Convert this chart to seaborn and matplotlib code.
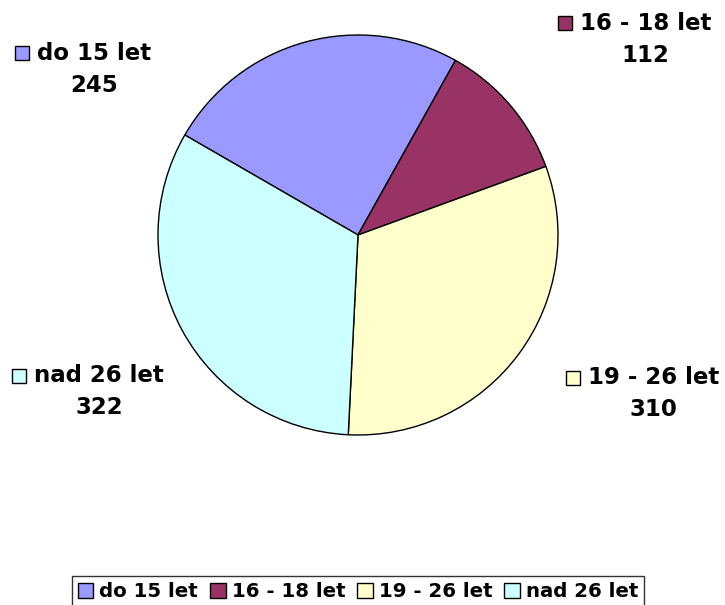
import matplotlib.pyplot as plt
import seaborn as sns
from matplotlib.patches import Rectangle

# data
categories = ["do 15 let", "16 - 18 let", "19 - 26 let", "nad 26 let"]
values = [245, 112, 310, 322]
colors = ["#9999FF", "#993366", "#FFFFCC", "#CCFFFF"]

# label block positions in figure pixels (left of key square, centre y of first line)
label_pos = [(15, 53), (558, 23), (566, 378), (12, 376)]

W, H = 725, 605

sns.set_theme(style="white")
plt.rcParams["font.family"] = ["DejaVu Sans"]
plt.rcParams["text.color"] = "black"

fig = plt.figure(figsize=(W / 100, H / 100), dpi=100)
fig.patch.set_facecolor("white")

# pie axes: centre (358, 235) px, radius 200 px
ax = fig.add_axes([158 / W, 1 - 435 / H, 400 / W, 400 / H])
wedges, _ = ax.pie(values, colors=colors, startangle=150, counterclock=False,
                   radius=1, wedgeprops=dict(edgecolor="black", linewidth=1))
ax.set_xlim(-1, 1)
ax.set_ylim(-1, 1)
ax.set_aspect("equal")
ax.axis("off")

fs = 16.5
key = 14
for cat, val, col, (px, py) in zip(categories, values, colors, label_pos):
    fig.patches.append(Rectangle((px / W, 1 - (py + key / 2) / H), key / W, key / H,
                                 transform=fig.transFigure, facecolor=col,
                                 edgecolor="black", linewidth=1))
    t = fig.text((px + key + 8) / W, 1 - py / H, cat, fontsize=fs, fontweight="bold",
                 ha="left", va="center", color="black")
    fig.canvas.draw()
    bb = t.get_window_extent()
    cx = (bb.x0 + bb.x1) / 2
    fig.text(cx / W, 1 - (py + 32) / H, str(val), fontsize=fs, fontweight="bold",
             ha="center", va="center", color="black")

leg = fig.legend(wedges, categories, loc="upper center", ncol=4,
                 bbox_to_anchor=(358 / W, 1 - 576 / H), frameon=True, fancybox=False,
                 prop=dict(size=14.2, weight="bold"), handlelength=0.8, handleheight=0.8,
                 handletextpad=0.3, columnspacing=0.6, borderpad=0.3, borderaxespad=0)
leg.get_frame().set_edgecolor("black")
leg.get_frame().set_linewidth(1)
for txt in leg.get_texts():
    txt.set_color("black")

fig.savefig("out.png", dpi=100)
